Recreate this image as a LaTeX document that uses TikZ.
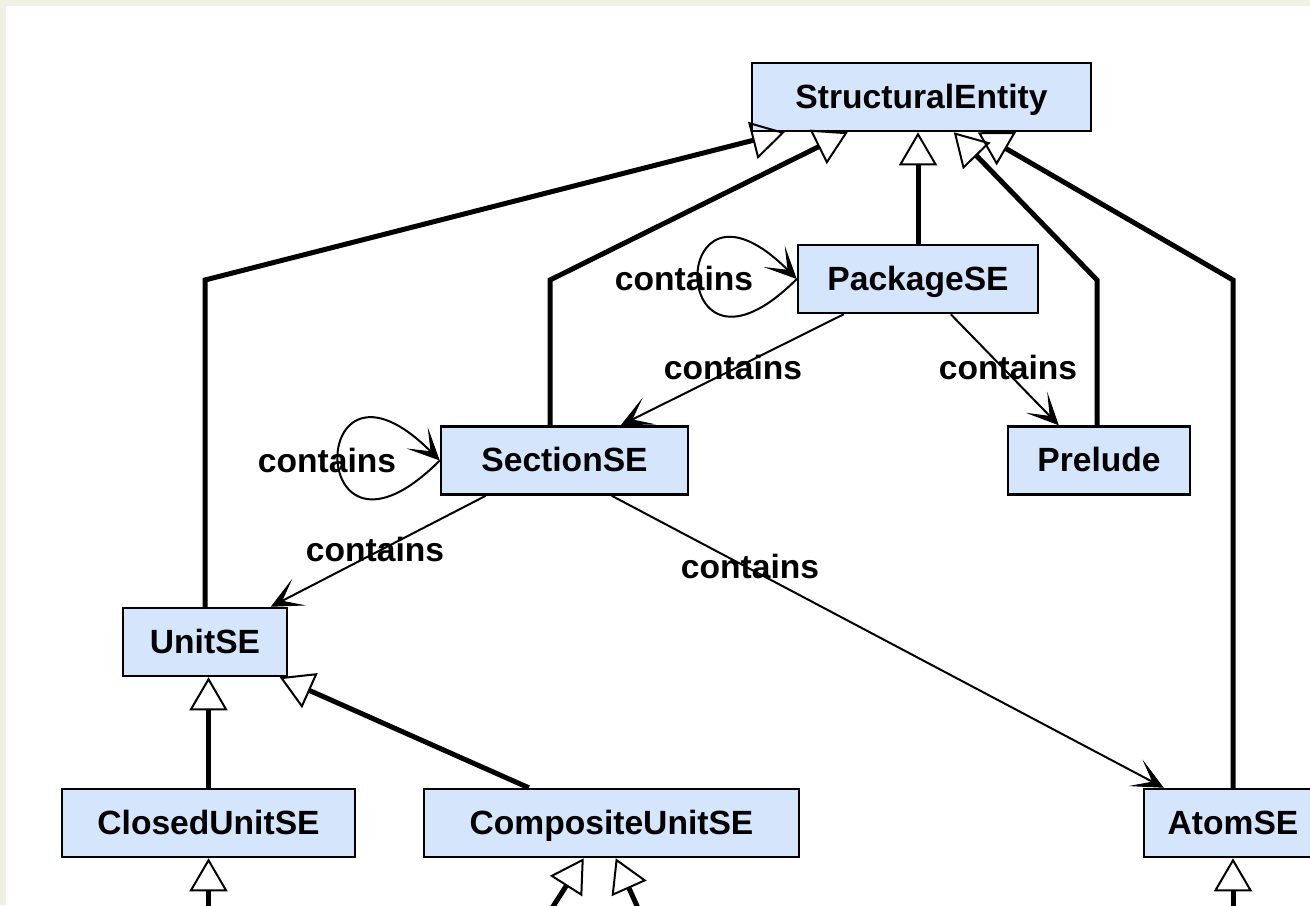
\documentclass[tikz,border=0pt]{standalone}
\usepackage{fontspec}
\setmainfont{Liberation Sans}
\usetikzlibrary{arrows.meta,calc}
\definecolor{bgbeige}{RGB}{240,240,228}
\definecolor{boxblue}{RGB}{212,229,252}
\begin{document}
\begin{tikzpicture}[x=0.5pt,y=-0.5pt,
  cls/.style={draw=black, line width=1.25pt, fill=boxblue, minimum height=34pt, inner sep=0pt, text height=12pt, text depth=1pt, font=\fontsize{16.8}{20}\selectfont\bfseries},
  inh/.style={line width=2.5pt, -{Triangle[open, length=16.5pt, width=19pt, line width=1pt]}},
  assoc/.style={line width=1pt, -{Stealth[length=16pt, width=15pt, inset=9.5pt, line width=0.5pt]}},
  lbl/.style={font=\fontsize{16.8}{20}\selectfont\bfseries, inner sep=0pt, text height=12pt, text depth=0pt}
]
\useasboundingbox (0,0) rectangle (1310,905);
\clip (0,0) rectangle (1310,905);
\fill[bgbeige] (0,0) rectangle (1310,905);
\fill[white] (6,6) rectangle (1310,905);

% nodes
\node[cls, minimum width=169.5pt] (se) at (921.5,97) {StructuralEntity};
\node[cls, minimum width=120pt] (pk) at (918,279) {PackageSE};
\node[cls, minimum width=123.5pt] (sec) at (564.5,460.5) {SectionSE};
\node[cls, minimum width=91pt] (pre) at (1099,460.5) {Prelude};
\node[cls, minimum width=82pt] (un) at (205,642) {UnitSE};
\node[cls, minimum width=146.5pt] (cl) at (208.5,823) {ClosedUnitSE};
\node[cls, minimum width=187.5pt] (comp) at (611.5,823) {CompositeUnitSE};
\node[cls, minimum width=89pt] (atom) at (1233,823) {AtomSE};

% free ends below the picture
\coordinate (clb) at (208.5,960);
\coordinate (compbl) at (519,960);
\coordinate (compbr) at (661,960);
\coordinate (atomb) at (1233,960);

% inheritance
\draw[inh] (un.north) -- (205,280) -- ($(se.south west)+(34,0)$);
\draw[inh] (sec.north -| 550,0) -- (550,280) -- ($(se.south west)+(97,0)$);
\draw[inh] (pk.north) -- (pk.north |- se.south);
\draw[inh] (pre.north -| 1097,0) -- (1097,280) -- ($(se.south west)+(203,0)$);
\draw[inh] (atom.north) -- (1233,280) -- ($(se.south west)+(227,0)$);
\draw[inh] (cl.north) -- (cl.north |- un.south);
\draw[inh] ($(comp.north west)+(106,0)$) -- ($(un.south west)+(158,0)$);
\draw[inh] (clb) -- (cl.south);
\draw[inh] (compbl) -- ($(comp.south west)+(161,0)$);
\draw[inh] (compbr) -- ($(comp.south west)+(193,0)$);
\draw[inh] (atomb) -- (atom.south);

% associations
\draw[assoc] (pk.west) .. controls ($(pk.west)+(-131,131)$) and ($(pk.west)+(-131,-131)$) .. (pk.west);
\draw[assoc] (sec.west) .. controls ($(sec.west)+(-135,135)$) and ($(sec.west)+(-135,-135)$) .. (sec.west);
\draw[assoc] ($(pk.south west)+(47,0)$) -- ($(sec.north west)+(181,0)$);
\draw[assoc] ($(pk.south west)+(154,0)$) -- ($(pre.north west)+(52,0)$);
\draw[assoc] ($(sec.south west)+(46,0)$) -- ($(un.north west)+(149,0)$);
\draw[assoc] ($(sec.south west)+(172,0)$) -- ($(atom.north west)+(21,0)$);

% labels
\node[lbl] (l1) at (684,278) {contains};
\node[lbl] (l2) at (327,460) {contains};
\node[lbl] (l3) at (733,367) {contains};
\node[lbl] (l4) at (1008,367) {contains};
\node[lbl] (l5) at (375,549) {contains};
\node[lbl] (l6) at (750,566) {contains};
\end{tikzpicture}
\end{document}
